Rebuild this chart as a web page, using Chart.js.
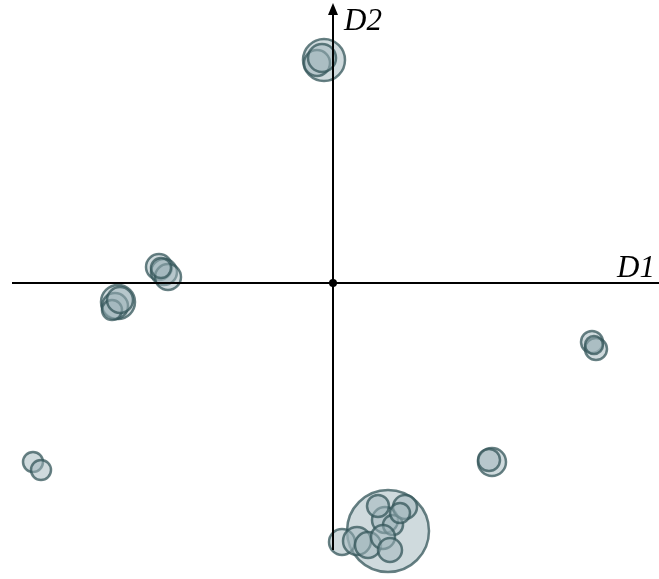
<!DOCTYPE html>
<html>
<head>
<meta charset="utf-8">
<style>
  html, body { margin: 0; padding: 0; background: #fff; }
  canvas { display: block; }
</style>
<script src="https://cdn.jsdelivr.net/npm/chart.js@4/dist/chart.umd.min.js"></script>
</head>
<body>
<canvas id="plan" width="659" height="579"></canvas>
<script>
// individuals projected on the first factorial plane (D1, D2)
const d1 = [
  -0.09, -0.16, -0.11,
  -1.74, -1.69, -1.65, -1.72,
  -2.15, -2.18, -2.21, -2.13,
  2.59, 2.63, 2.61,
  -3.00, -2.92,
  1.59, 1.56,
  0.55, 0.09, 0.24, 0.35, 0.52, 0.60, 0.50, 0.72, 0.67, 0.57, 0.45
];
const d2 = [
  2.23, 2.20, 2.25,
  0.16, 0.11, 0.06, 0.15,
  -0.19, -0.23, -0.27, -0.17,
  -0.59, -0.66, -0.62,
  -1.79, -1.87,
  -1.79, -1.77,
  -2.48, -2.59, -2.58, -2.62, -2.37, -2.42, -2.54, -2.24, -2.30, -2.67, -2.23
];
// bubble size (weight of each point)
const weight = [
  21, 13, 14,
  13, 13, 13, 10,
  17, 13, 10, 13,
  11, 11, 9,
  10, 10,
  14, 11,
  41, 13, 14, 13, 13, 10, 12, 12, 10, 12, 11
];
const axisNames = ['D1', 'D2'];

const points = d1.map((x, i) => ({ x: x, y: d2[i], r: weight[i] }));

// draws the two factorial axes through the origin
const factorAxes = {
  id: 'factorAxes',
  afterDatasetsDraw(chart) {
    const { ctx, scales: { x, y } } = chart;
    const ox = x.getPixelForValue(0);
    const oy = y.getPixelForValue(0);
    ctx.save();
    ctx.strokeStyle = '#000';
    ctx.fillStyle = '#000';
    ctx.lineWidth = 2;
    ctx.beginPath();
    ctx.moveTo(12, oy);
    ctx.lineTo(chart.width, oy);
    ctx.moveTo(ox, 550);
    ctx.lineTo(ox, 12);
    ctx.stroke();
    // arrow head on D2
    ctx.beginPath();
    ctx.moveTo(ox, 3);
    ctx.lineTo(ox - 5, 15);
    ctx.lineTo(ox + 5, 15);
    ctx.closePath();
    ctx.fill();
    // origin
    ctx.beginPath();
    ctx.arc(ox, oy, 4, 0, Math.PI * 2);
    ctx.fill();
    ctx.font = 'italic 31px "Liberation Serif", "DejaVu Serif", serif';
    ctx.textBaseline = 'alphabetic';
    ctx.textAlign = 'left';
    ctx.fillText(axisNames[0], 617, 277);
    ctx.fillText(axisNames[1], ox + 11, 30);
    ctx.restore();
  }
};

new Chart(document.getElementById('plan'), {
  type: 'bubble',
  data: {
    datasets: [{
      data: points,
      backgroundColor: 'rgba(160, 182, 188, 0.5)',
      borderColor: 'rgba(52, 86, 90, 0.75)',
      borderWidth: 2.5,
      clip: false
    }]
  },
  options: {
    responsive: false,
    animation: false,
    layout: { padding: 0, autoPadding: false },
    plugins: {
      legend: { display: false },
      tooltip: { enabled: false }
    },
    scales: {
      x: { type: 'linear', min: -3.33, max: 3.26, display: false },
      y: { type: 'linear', min: -2.96, max: 2.83, display: false }
    }
  },
  plugins: [factorAxes]
});
</script>
</body>
</html>
